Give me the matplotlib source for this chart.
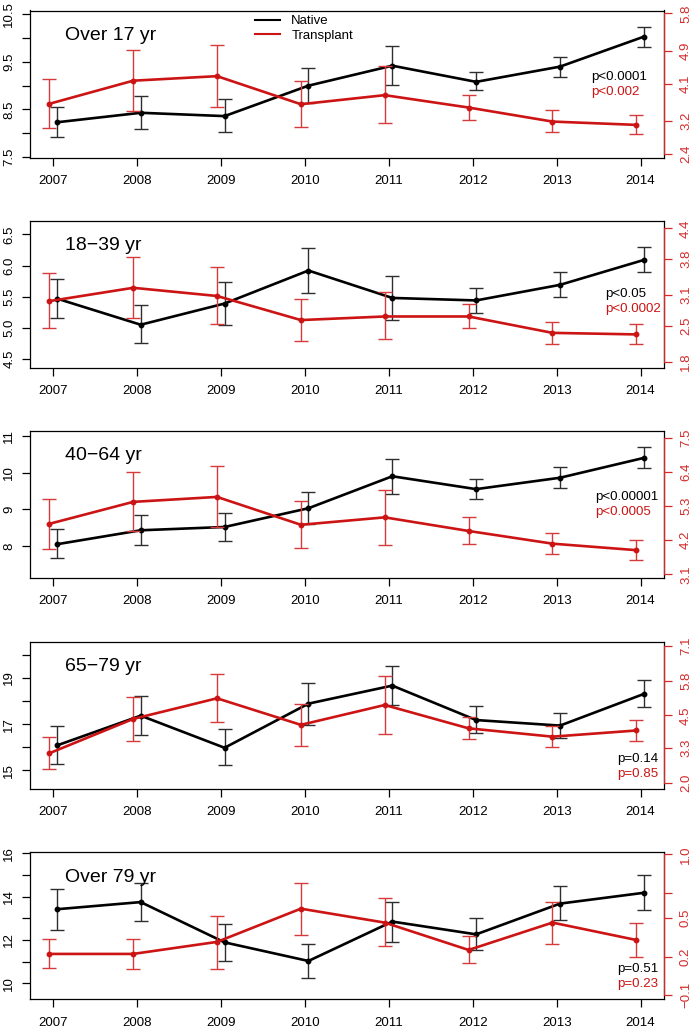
import matplotlib
matplotlib.use("Agg")
import matplotlib.pyplot as plt
from matplotlib.lines import Line2D
import numpy as np

plt.rcParams["font.family"] = ["Liberation Sans", "DejaVu Sans"]

# ---------------- data ----------------
years = [2007, 2008, 2009, 2010, 2011, 2012, 2013, 2014]
year_labels = [str(y) for y in years]

panel_titles = ["Over 17 yr", "18\u221239 yr", "40\u221264 yr", "65\u221279 yr", "Over 79 yr"]
legend_labels = ["Native", "Transplant"]

p_native = ["p<0.0001", "p<0.05", "p<0.00001", "p=0.14", "p=0.51"]
p_transplant = ["p<0.002", "p<0.0002", "p<0.0005", "p=0.85", "p=0.23"]

# Over 17 yr
nat17_mean = [8.23, 8.43, 8.36, 9.00, 9.42, 9.08, 9.40, 10.03]
nat17_low = [7.92, 8.09, 8.02, 8.63, 9.01, 8.90, 9.19, 9.82]
nat17_high = [8.56, 8.78, 8.71, 9.37, 9.84, 9.29, 9.61, 10.24]
tra17_mean = [3.61, 4.17, 4.28, 3.60, 3.82, 3.52, 3.18, 3.10]
tra17_low = [3.02, 3.44, 3.53, 3.04, 3.14, 3.23, 2.92, 2.87]
tra17_high = [4.22, 4.91, 5.03, 4.17, 4.52, 3.82, 3.46, 3.34]

# 18-39 yr
nat18_mean = [5.47, 5.05, 5.39, 5.92, 5.48, 5.44, 5.69, 6.09]
nat18_low = [5.15, 4.75, 5.04, 5.56, 5.12, 5.24, 5.49, 5.89]
nat18_high = [5.78, 5.37, 5.74, 6.28, 5.84, 5.64, 5.90, 6.30]
tra18_mean = [2.98, 3.24, 3.08, 2.61, 2.68, 2.68, 2.36, 2.33]
tra18_low = [2.45, 2.65, 2.53, 2.21, 2.24, 2.46, 2.15, 2.14]
tra18_high = [3.52, 3.85, 3.65, 3.02, 3.15, 2.92, 2.58, 2.53]

# 40-64 yr
nat40_mean = [8.05, 8.43, 8.52, 9.03, 9.90, 9.55, 9.86, 10.40]
nat40_low = [7.67, 8.04, 8.14, 8.61, 9.42, 9.28, 9.58, 10.12]
nat40_high = [8.47, 8.85, 8.91, 9.46, 10.37, 9.83, 10.15, 10.69]
tra40_mean = [4.73, 5.44, 5.60, 4.70, 4.94, 4.50, 4.09, 3.88]
tra40_low = [3.93, 4.50, 4.63, 3.96, 4.06, 4.09, 3.74, 3.57]
tra40_high = [5.54, 6.41, 6.59, 5.46, 5.83, 4.94, 4.45, 4.21]

# 65-79 yr
nat65_mean = [16.08, 17.37, 15.98, 17.89, 18.67, 17.18, 16.94, 18.31]
nat65_low = [15.29, 16.52, 15.22, 16.98, 17.83, 16.62, 16.39, 17.74]
nat65_high = [16.94, 18.21, 16.81, 18.78, 19.51, 17.77, 17.50, 18.90]
tra65_mean = [3.09, 4.37, 5.14, 4.15, 4.89, 4.02, 3.71, 3.94]
tra65_low = [2.52, 3.55, 4.26, 3.36, 3.82, 3.63, 3.34, 3.56]
tra65_high = [3.69, 5.20, 6.03, 4.93, 5.98, 4.43, 4.11, 4.33]

# Over 79 yr
nat79_mean = [13.42, 13.75, 11.89, 11.03, 12.85, 12.26, 13.68, 14.18]
nat79_low = [12.46, 12.88, 11.03, 10.26, 11.92, 11.54, 12.92, 13.37]
nat79_high = [14.35, 14.62, 12.74, 11.82, 13.77, 13.00, 14.49, 15.00]
tra79_mean = [0.221, 0.221, 0.315, 0.575, 0.466, 0.252, 0.466, 0.330]
tra79_low = [0.109, 0.106, 0.106, 0.372, 0.283, 0.148, 0.301, 0.200]
tra79_high = [0.335, 0.338, 0.518, 0.779, 0.656, 0.359, 0.630, 0.466]

# axis ticks
left_ticks = [
    [7.5, 8.0, 8.5, 9.0, 9.5, 10.0, 10.5],
    [4.5, 5.0, 5.5, 6.0, 6.5],
    [8, 9, 10, 11],
    [15, 16, 17, 18, 19, 20],
    [10, 11, 12, 13, 14, 15, 16],
]
left_labels = [
    ["7.5", "", "8.5", "", "9.5", "", "10.5"],
    ["4.5", "5.0", "5.5", "6.0", "6.5"],
    ["8", "9", "10", "11"],
    ["15", "", "17", "", "19", ""],
    ["10", "", "12", "", "14", "", "16"],
]
right_ticks = [
    [2.4, 3.2, 4.1, 4.9, 5.8],
    [1.8, 2.5, 3.1, 3.8, 4.4],
    [3.1, 4.2, 5.3, 6.4, 7.5],
    [2.0, 3.3, 4.5, 5.8, 7.1],
    [-0.1, 0.2, 0.5, 0.7, 1.0],
]
right_labels = [
    ["2.4", "3.2", "4.1", "4.9", "5.8"],
    ["1.8", "2.5", "3.1", "3.8", "4.4"],
    ["3.1", "4.2", "5.3", "6.4", "7.5"],
    ["2.0", "3.3", "4.5", "5.8", "7.1"],
    ["\u22120.1", "0.2", "0.5", "", "1.0"],
]

native_means = [nat17_mean, nat18_mean, nat40_mean, nat65_mean, nat79_mean]
native_lows = [nat17_low, nat18_low, nat40_low, nat65_low, nat79_low]
native_highs = [nat17_high, nat18_high, nat40_high, nat65_high, nat79_high]
tra_means = [tra17_mean, tra18_mean, tra40_mean, tra65_mean, tra79_mean]
tra_lows = [tra17_low, tra18_low, tra40_low, tra65_low, tra79_low]
tra_highs = [tra17_high, tra18_high, tra40_high, tra65_high, tra79_high]

# ---------------- layout / style ----------------
W, H = 694, 1030
AX_L, AX_R = 30, 664
PANEL_H = 147
panel_tops = [10.5, 220.7, 430.7, 641.7, 852.3]
left_ylims = [(7.49, 10.58), (4.36, 6.72), (7.14, 11.14), (14.21, 20.57), (9.26, 16.05)]
right_ylims = [(2.31, 5.87), (1.68, 4.55), (2.99, 7.74), (1.77, 7.25), (-0.134, 1.016)]
p_x = [591, 605, 594.7, 617.3, 617.3]
p_y_black = [77.3, 294.3, 496.7, 759.0, 969.3]
p_y_red = [91.7, 309.3, 511.7, 774.0, 984.3]

RED = "#CC1414"
RED_ERR = "#D63A3A"
RED_AX = "#D42A2A"
BLK_ERR = "#2E2E2E"
X_OFF_NAT = 0.04
X_OFF_TRA = -0.05
TICK_FS = 9.5

fig = plt.figure(figsize=(W / 100, H / 100), dpi=100)

yrs = np.array(years, dtype=float)

for i in range(5):
    top = panel_tops[i]
    ax = fig.add_axes([AX_L / W, 1 - (top + PANEL_H) / H, (AX_R - AX_L) / W, PANEL_H / H])
    ax2 = ax.twinx()

    nm = np.array(native_means[i]); nl = np.array(native_lows[i]); nh = np.array(native_highs[i])
    tm = np.array(tra_means[i]); tl = np.array(tra_lows[i]); th = np.array(tra_highs[i])

    ax.errorbar(yrs + X_OFF_NAT, nm, yerr=[nm - nl, nh - nm], fmt="none",
                ecolor=BLK_ERR, elinewidth=1.0, capsize=4.7, capthick=1.0, zorder=2)
    ax.plot(yrs + X_OFF_NAT, nm, "-o", color="black", lw=1.9, ms=3.2, zorder=3)

    ax2.errorbar(yrs + X_OFF_TRA, tm, yerr=[tm - tl, th - tm], fmt="none",
                 ecolor=RED_ERR, elinewidth=1.0, capsize=4.7, capthick=1.0, zorder=2)
    ax2.plot(yrs + X_OFF_TRA, tm, "-o", color=RED, lw=1.9, ms=3.2, zorder=3)

    ax.set_xlim(2006.72, 2014.28)
    ax.set_ylim(*left_ylims[i])
    ax2.set_ylim(*right_ylims[i])

    ax.set_xticks(years)
    ax.set_xticklabels(year_labels)
    ax.tick_params(axis="x", length=6, width=0.9, pad=6.5, labelsize=TICK_FS)

    ax.set_yticks(left_ticks[i])
    ax.set_yticklabels(left_labels[i], rotation=90, va="center")
    ax.tick_params(axis="y", length=6, width=0.9, pad=4.5, labelsize=TICK_FS)

    ax2.set_yticks(right_ticks[i])
    ax2.set_yticklabels(right_labels[i], rotation=90, va="center")
    ax2.tick_params(axis="y", length=6, width=0.9, pad=5.5, labelsize=TICK_FS,
                    colors=RED_AX)

    for s in ax.spines.values():
        s.set_linewidth(0.9)
        s.set_color("black")
    for name in ["top", "left", "bottom"]:
        ax2.spines[name].set_visible(False)
    ax2.spines["right"].set_color(RED_AX)
    ax2.spines["right"].set_linewidth(0.9)
    ax2.spines["right"].set_bounds(right_ticks[i][0], right_ticks[i][-1])

    ax2.text((65 - AX_L) / (AX_R - AX_L), 1 - 25 / PANEL_H, panel_titles[i],
             transform=ax2.transAxes, ha="left", va="center", fontsize=14, color="black")

    ax2.text((p_x[i] - AX_L) / (AX_R - AX_L), 1 - (p_y_black[i] - top) / PANEL_H, p_native[i],
             transform=ax2.transAxes, ha="left", va="center", fontsize=9.6, color="black")
    ax2.text((p_x[i] - AX_L) / (AX_R - AX_L), 1 - (p_y_red[i] - top) / PANEL_H, p_transplant[i],
             transform=ax2.transAxes, ha="left", va="center", fontsize=9.6, color=RED)

    if i == 0:
        handles = [Line2D([], [], color="black", lw=1.5), Line2D([], [], color=RED, lw=1.5)]
        ax2.legend(handles, legend_labels, loc="upper left",
                   bbox_to_anchor=((255 - AX_L) / (AX_R - AX_L), 1 - 4.5 / PANEL_H),
                   frameon=False, fontsize=9.5, handlelength=1.9, handletextpad=0.85,
                   borderpad=0, borderaxespad=0, labelspacing=0.2)

fig.savefig("out.png", dpi=100)
